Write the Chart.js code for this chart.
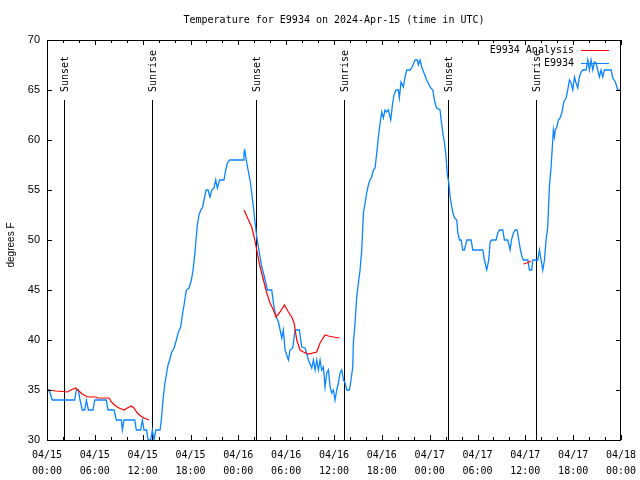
<!DOCTYPE html>
<html>
<head>
<meta charset="utf-8">
<script src="https://cdn.jsdelivr.net/npm/chart.js@4.4.1/dist/chart.umd.min.js"></script>
<style>
  html, body { margin: 0; padding: 0; background: #fff; }
</style>
</head>
<body>
<canvas id="chart" width="640" height="480"></canvas>
<script>
// hours since 2024-04-15 00:00 UTC
const obsHours = [0, 0.25, 0.67, 3.47, 3.68, 3.93, 4.14, 4.43, 4.73, 4.94, 5.19, 5.77, 5.98, 7.44, 7.65, 8.41, 8.7, 9.33, 9.45, 9.66,
  11.0, 11.21, 11.75, 11.96, 12.17, 12.5, 12.67, 13.0, 13.22, 13.42, 13.67, 14.18, 14.34, 14.55, 14.76, 14.97, 15.18, 15.39, 15.6, 15.93,
  16.23, 16.44, 16.77, 16.98, 17.19, 17.48, 17.82, 18.11, 18.32, 18.53, 18.69, 18.86, 19.07, 19.28, 19.49, 19.7, 19.95, 20.2, 20.45, 20.66,
  20.95, 21.16, 21.37, 21.66, 22.2, 22.42, 22.62, 22.92, 24.59, 24.71, 24.8, 25.06, 25.27, 25.47, 25.68, 25.89, 26.1, 26.31, 26.52, 26.73,
  26.94, 27.15, 27.36, 27.65, 28.19, 28.4, 28.61, 28.82, 29.03, 29.24, 29.45, 29.65, 29.86, 30.28, 30.49, 30.82, 31.12, 31.66, 31.95, 32.37,
  32.79, 33.21, 33.42, 33.63, 33.83, 34.04, 34.25, 34.46, 34.67, 34.88, 35.09, 35.3, 35.51, 35.72, 35.92, 36.13, 36.34, 36.55, 36.76, 36.97,
  37.18, 37.39, 37.6, 37.93, 38.14, 38.35, 38.43, 38.64, 38.85, 39.06, 39.27, 39.48, 39.69, 39.9, 40.1, 40.31, 40.52, 40.73, 40.94, 41.15,
  41.36, 41.57, 41.78, 41.99, 42.19, 42.4, 42.61, 42.82, 43.11, 43.36, 43.53, 43.78, 44.08, 44.2, 44.41, 44.7, 44.91, 45.12, 45.54, 45.75,
  46.17, 46.46, 46.58, 46.79, 47.0, 47.29, 47.63, 48.05, 48.38, 48.67, 48.88, 49.3, 49.44, 49.65, 49.86, 50.06, 50.19, 50.4, 50.57, 50.69,
  50.9, 51.11, 51.4, 51.53, 51.74, 51.95, 52.15, 52.36, 52.66, 53.2, 53.41, 54.66, 54.87, 55.16, 55.41, 55.58, 55.79, 56.33, 56.54, 56.75,
  57.17, 57.38, 57.8, 58.09, 58.26, 58.51, 58.72, 58.97, 59.18, 59.39, 59.59, 59.76, 60.31, 60.51, 60.81, 60.93, 61.56, 61.77, 61.98, 62.19,
  62.4, 62.6, 62.81, 63.02, 63.23, 63.44, 63.52, 63.65, 63.77, 63.94, 64.15, 64.36, 64.61, 64.82, 65.11, 65.32, 65.53, 65.74, 65.95, 66.16,
  66.37, 66.58, 66.78, 66.99, 67.2, 67.62, 67.83, 68.04, 68.25, 68.46, 68.67, 68.87, 69.08, 69.29, 69.5, 69.71, 69.92, 70.76, 70.97, 71.3,
  71.59, 72.0];
const obsTemps = [35, 35, 34, 34, 35, 35, 34, 33, 33, 34, 33, 33, 34, 34, 33, 33, 32, 32, 31, 32,
  32, 31, 31, 32, 31, 31, 30, 30, 31, 30, 31, 31, 32, 34, 35.5, 36.5, 37.5, 38, 38.7, 39.2,
  40, 40.7, 41.3, 42.5, 43.5, 45, 45.2, 46, 47, 48.5, 50, 51.5, 52.5, 53, 53.2, 54, 55, 55, 54.3, 55,
  55.2, 56, 55.2, 56, 56, 57, 57.7, 58, 58, 58.8, 59, 57.7, 56.8, 56, 54.7, 53.3, 51.7, 50.3, 49.3, 48.3,
  47.3, 46.7, 46, 45, 45, 43.7, 42.7, 42.2, 41.8, 41, 40.2, 41, 39, 38, 39, 39.2, 41, 41, 39.3, 39.2,
  38, 37.2, 38, 37, 38, 37, 38, 37, 37.3, 35.3, 36.7, 37, 35.3, 34.7, 35, 34, 35, 35.7, 36.7, 37,
  36, 35.7, 35, 35, 36, 37.3, 39.7, 41.7, 44.3, 45.7, 47, 49, 52.7, 53.7, 54.7, 55.5, 56, 56.3, 57, 57.2,
  58.7, 60.3, 61.7, 62.8, 62.2, 63, 62.8, 63, 62, 63.7, 64.5, 65, 65, 64.2, 65.8, 65.3, 66.3, 67, 67, 67.2,
  68, 68, 67.5, 68, 67.3, 66.7, 66, 65.3, 65, 63.7, 63.2, 63, 62, 60.7, 59.7, 58.3, 56.7, 55.7, 54.3, 53.7,
  52.8, 52.2, 52, 50.7, 50, 50, 49, 49, 50, 50, 49, 49, 48, 47, 48, 49.8, 50, 50, 50.7, 51,
  51, 50, 50, 49, 50, 50.7, 51, 51, 50, 49, 48.3, 48, 48, 47, 47, 48, 48, 49, 48, 47,
  48, 50, 51.3, 55.3, 57.3, 60, 61, 60.3, 61, 61.3, 62, 62.2, 62.8, 63.8, 64.2, 65, 66, 65.7, 65, 66.3,
  65.7, 65.2, 66.3, 66.8, 67, 67, 68, 67, 68, 67, 67.8, 67.7, 67, 66.3, 67, 66.3, 67, 67, 66.2, 65.8,
  65, 65];

// analysis (null = no analysis)
const anaHours = [0.04, 1.09, 2.0, 2.55, 3.0, 3.6, 4.0, 4.43, 4.85, 5.27, 6.1, 6.3, 7.36, 7.77, 8.2, 8.62, 9.03, 9.66, 10.07, 10.6,
  10.9, 11.33, 11.75, 12.17, 12.8, 18.0,
  24.72, 25.27, 25.68, 25.98, 26.31, 26.73, 27.15, 27.56, 27.98, 28.4, 28.73, 29.24, 29.78, 30.28, 30.7, 30.99, 31.33, 31.74, 32.16, 32.79,
  33.83, 34.25, 34.88, 35.3, 35.92, 36.68, 48.0,
  59.76, 60.18, 60.72];
const anaTemps = [35.0, 34.9, 34.85, 34.8, 35.0, 35.2, 34.9, 34.6, 34.4, 34.3, 34.3, 34.2, 34.2, 34.2, 33.7, 33.4, 33.2, 33.0, 33.2, 33.4,
  33.2, 32.7, 32.4, 32.2, 32.0, null,
  53.0, 52.0, 51.3, 50.3, 49.0, 47.3, 46.0, 44.7, 43.7, 43.0, 42.3, 42.8, 43.5, 42.8, 42.3, 41.7, 40.0, 39.0, 38.8, 38.6,
  38.8, 39.7, 40.5, 40.4, 40.3, 40.2, null,
  47.6, 47.7, 47.9];

const eventHours = [2.17, 13.2, 26.2, 37.3, 50.35, 61.4];
const eventLabels = ["Sunset", "Sunrise", "Sunset", "Sunrise", "Sunset", "Sunrise"];

const tickDates = ["04/15", "04/15", "04/15", "04/15", "04/16", "04/16", "04/16", "04/16", "04/17", "04/17", "04/17", "04/17", "04/18"];
const tickTimes = ["00:00", "06:00", "12:00", "18:00", "00:00", "06:00", "12:00", "18:00", "00:00", "06:00", "12:00", "18:00", "00:00"];

const MONO = '10px "DejaVu Sans Mono", monospace';
const SANS = '"Liberation Sans", Arial, sans-serif';

// gnuplot-ish frame: box, inward ticks on all sides, sunrise/sunset markers, legend, title
const framePlugin = {
  id: "frame",
  beforeDatasetsDraw(chart) {
    const { ctx, chartArea: a, scales: { x } } = chart;
    ctx.save();
    ctx.strokeStyle = "#000";
    ctx.lineWidth = 1;
    ctx.fillStyle = "#000";
    ctx.font = MONO;
    eventHours.forEach((h, i) => {
      const px = Math.round(x.getPixelForValue(h)) + 0.5;
      ctx.beginPath();
      ctx.moveTo(px, a.top + 60);
      ctx.lineTo(px, a.bottom);
      ctx.stroke();
      ctx.save();
      ctx.translate(px + 1, a.top + 52);
      ctx.rotate(-Math.PI / 2);
      ctx.textAlign = "left";
      ctx.textBaseline = "middle";
      ctx.fillText(eventLabels[i], 0, 0);
      ctx.restore();
    });
    ctx.restore();
  },
  afterDraw(chart) {
    const { ctx, chartArea: a, scales: { x, y } } = chart;
    ctx.save();
    ctx.strokeStyle = "#000";
    ctx.lineWidth = 1;
    ctx.strokeRect(a.left + 0.5, a.top + 0.5, a.right - a.left - 1, a.bottom - a.top);

    ctx.beginPath();
    for (let h = 0; h <= 72; h += 2) {
      const px = Math.round(x.getPixelForValue(h)) + 0.5;
      const len = h % 6 === 0 ? 5 : 3;
      ctx.moveTo(px, a.bottom); ctx.lineTo(px, a.bottom - len);
      ctx.moveTo(px, a.top); ctx.lineTo(px, a.top + len);
    }
    for (let v = 30; v <= 70; v += 5) {
      const py = Math.round(y.getPixelForValue(v)) + 0.5;
      ctx.moveTo(a.left, py); ctx.lineTo(a.left + 5, py);
      ctx.moveTo(a.right, py); ctx.lineTo(a.right - 5, py);
    }
    ctx.stroke();

    // title
    ctx.fillStyle = "#000";
    ctx.font = MONO;
    ctx.textAlign = "center";
    ctx.textBaseline = "middle";
    ctx.fillText("Temperature for E9934 on 2024-Apr-15 (time in UTC)", (a.left + a.right) / 2, 20);

    // y axis title
    ctx.save();
    ctx.translate(11, (a.top + a.bottom) / 2 + 5);
    ctx.rotate(-Math.PI / 2);
    ctx.font = "10px " + SANS;
    ctx.fillText("degrees F", 0, 0);
    ctx.restore();

    // legend
    ctx.font = MONO;
    ctx.textAlign = "right";
    chart.data.datasets.forEach((ds, i) => {
      const ly = a.top + 10 + i * 13;
      ctx.fillStyle = "#000";
      ctx.fillText(ds.label, a.right - 47, ly);
      ctx.strokeStyle = ds.borderColor;
      ctx.beginPath();
      ctx.moveTo(a.right - 40, ly + 0.5);
      ctx.lineTo(a.right - 12, ly + 0.5);
      ctx.stroke();
    });
    ctx.restore();
  }
};

const obsPoints = obsHours.map((h, i) => ({ x: h, y: obsTemps[i] }));
const anaPoints = anaHours.map((h, i) => ({ x: h, y: anaTemps[i] }));

new Chart(document.getElementById("chart"), {
  type: "line",
  data: {
    datasets: [
      { label: "E9934 Analysis", data: anaPoints, borderColor: "#ff0000", borderWidth: 1.2, pointRadius: 0, tension: 0, spanGaps: false },
      { label: "E9934", data: obsPoints, borderColor: "#0a84ff", borderWidth: 1.3, pointRadius: 0, tension: 0 }
    ]
  },
  options: {
    responsive: false,
    animation: false,
    layout: { padding: { top: 40, right: 19, left: 0, bottom: 0 } },
    plugins: { legend: { display: false }, tooltip: { enabled: false } },
    scales: {
      x: {
        type: "linear", min: 0, max: 72,
        grid: { display: false, drawTicks: false },
        border: { display: false },
        ticks: {
          stepSize: 6, autoSkip: false, maxRotation: 0, padding: 7, color: "#000",
          font: { family: '"DejaVu Sans Mono", monospace', size: 10, lineHeight: 1.6 },
          callback: (v) => [tickDates[v / 6], tickTimes[v / 6]]
        },
        afterFit: (s) => { s.height = 40; s.paddingLeft = 0; s.paddingRight = 0; }
      },
      y: {
        min: 30, max: 70,
        grid: { display: false, drawTicks: false },
        border: { display: false },
        ticks: { stepSize: 5, padding: 7, color: "#000", font: { family: SANS, size: 11 } },
        afterFit: (s) => { s.width = 47; s.paddingTop = 0; s.paddingBottom = 0; }
      }
    }
  },
  plugins: [framePlugin]
});
</script>
</body>
</html>
